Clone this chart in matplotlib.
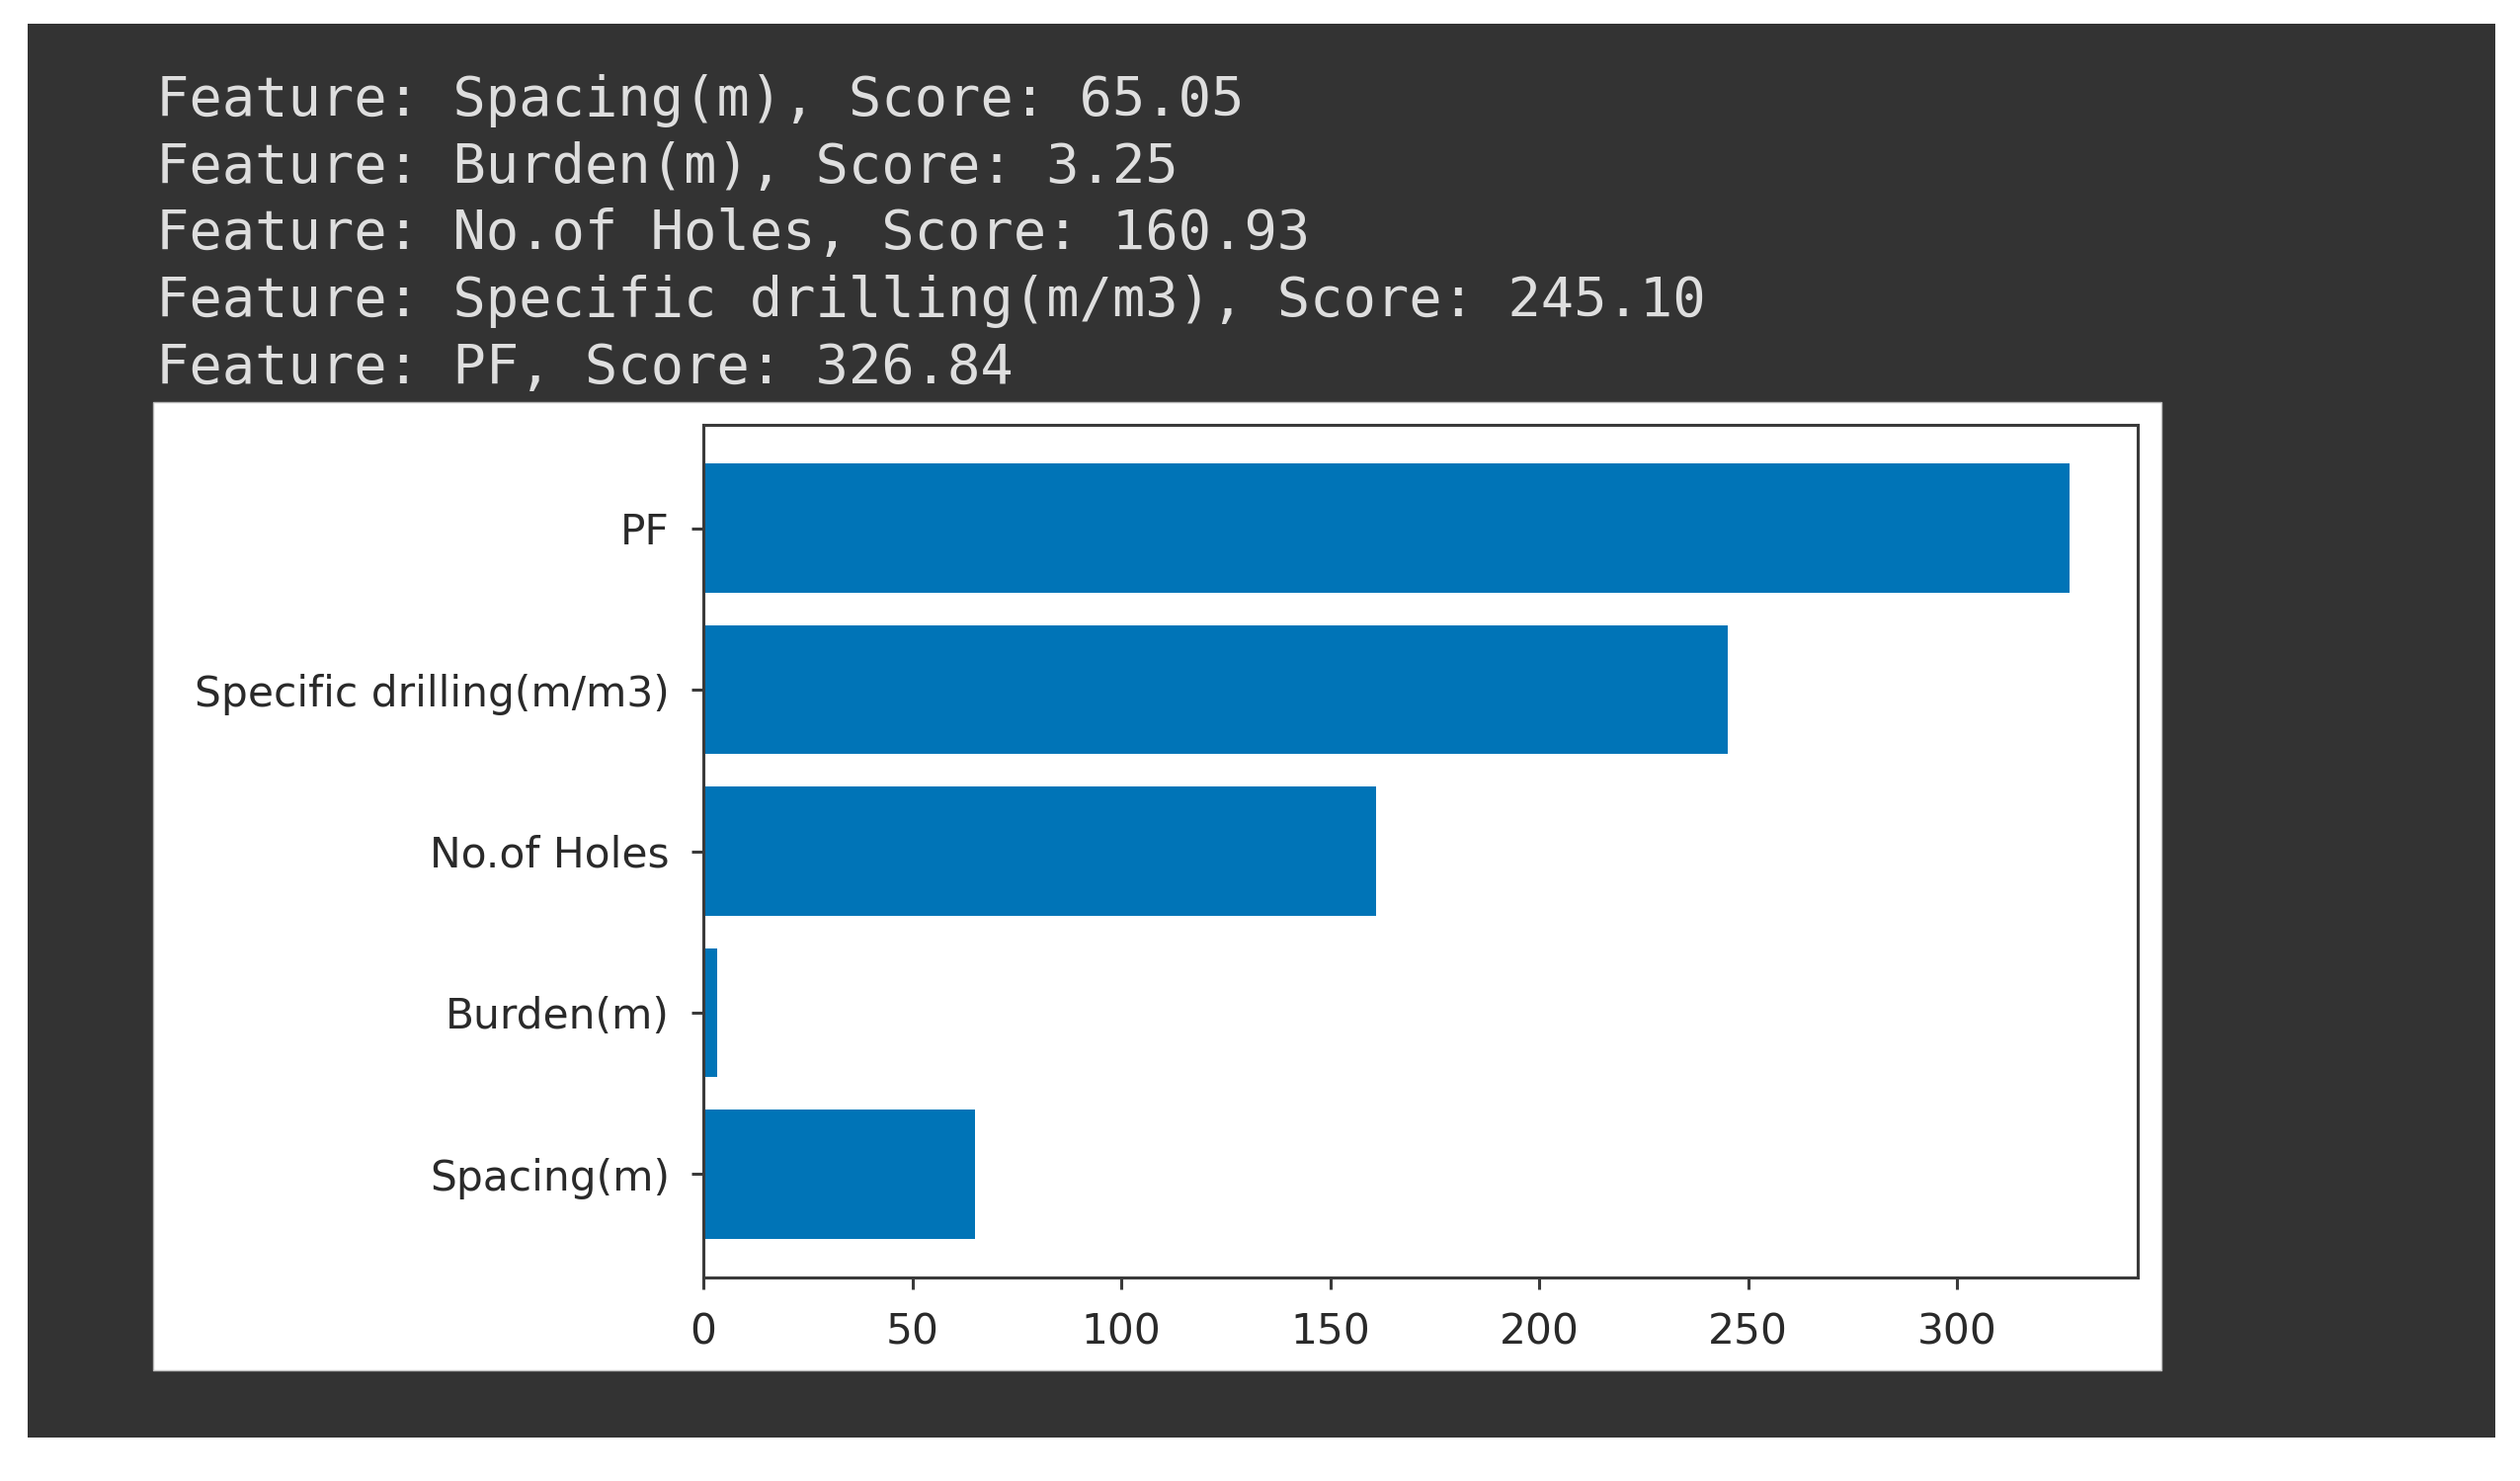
import matplotlib
matplotlib.use("Agg")
import matplotlib.pyplot as plt
from matplotlib.patches import Rectangle

features = ["Spacing(m)", "Burden(m)", "No.of Holes", "Specific drilling(m/m3)", "PF"]
scores = [65.05, 3.25, 160.93, 245.10, 326.84]

W, H = 2551, 1499
DPI = 100


def box(x0, y0, x1, y1):
    # pixel box (top-left origin) -> figure fraction [l, b, w, h]
    return [x0 / W, 1 - y1 / H, (x1 - x0) / W, (y1 - y0) / H]


fig = plt.figure(figsize=(W / DPI, H / DPI), dpi=DPI)
fig.patch.set_facecolor("white")

# dark notebook output area
l, b, w, h = box(28, 24, 2526, 1455)
fig.add_artist(Rectangle((l, b), w, h, transform=fig.transFigure,
                         facecolor="#333333", edgecolor="none", zorder=0))
# white image panel
l, b, w, h = box(155, 407, 2188, 1387)
fig.add_artist(Rectangle((l, b), w, h, transform=fig.transFigure,
                         facecolor="white", edgecolor="#bbbbbb", lw=1, zorder=1))

# printed lines
for i, (name, sc) in enumerate(zip(features, scores)):
    ybase = 117 + i * 67.75
    fig.text(158 / W, 1 - ybase / H, f"Feature: {name}, Score: {sc:.2f}",
             family="DejaVu Sans Mono", fontsize=40, color="#dedede",
             va="baseline", ha="left")

ax = fig.add_axes(box(712, 430, 2164, 1293))
ax.set_zorder(2)
ax.barh(features, scores, color="#0074b7")

for sp in ax.spines.values():
    sp.set_linewidth(2.2)
    sp.set_color("#3a3a3a")
ax.tick_params(axis="both", length=8.6, width=2.2, color="#3a3a3a",
               labelsize=30.5, labelcolor="#2a2a2a", pad=16)
ax.set_xticks([0, 50, 100, 150, 200, 250, 300])

fig.savefig("out.png", dpi=DPI)
